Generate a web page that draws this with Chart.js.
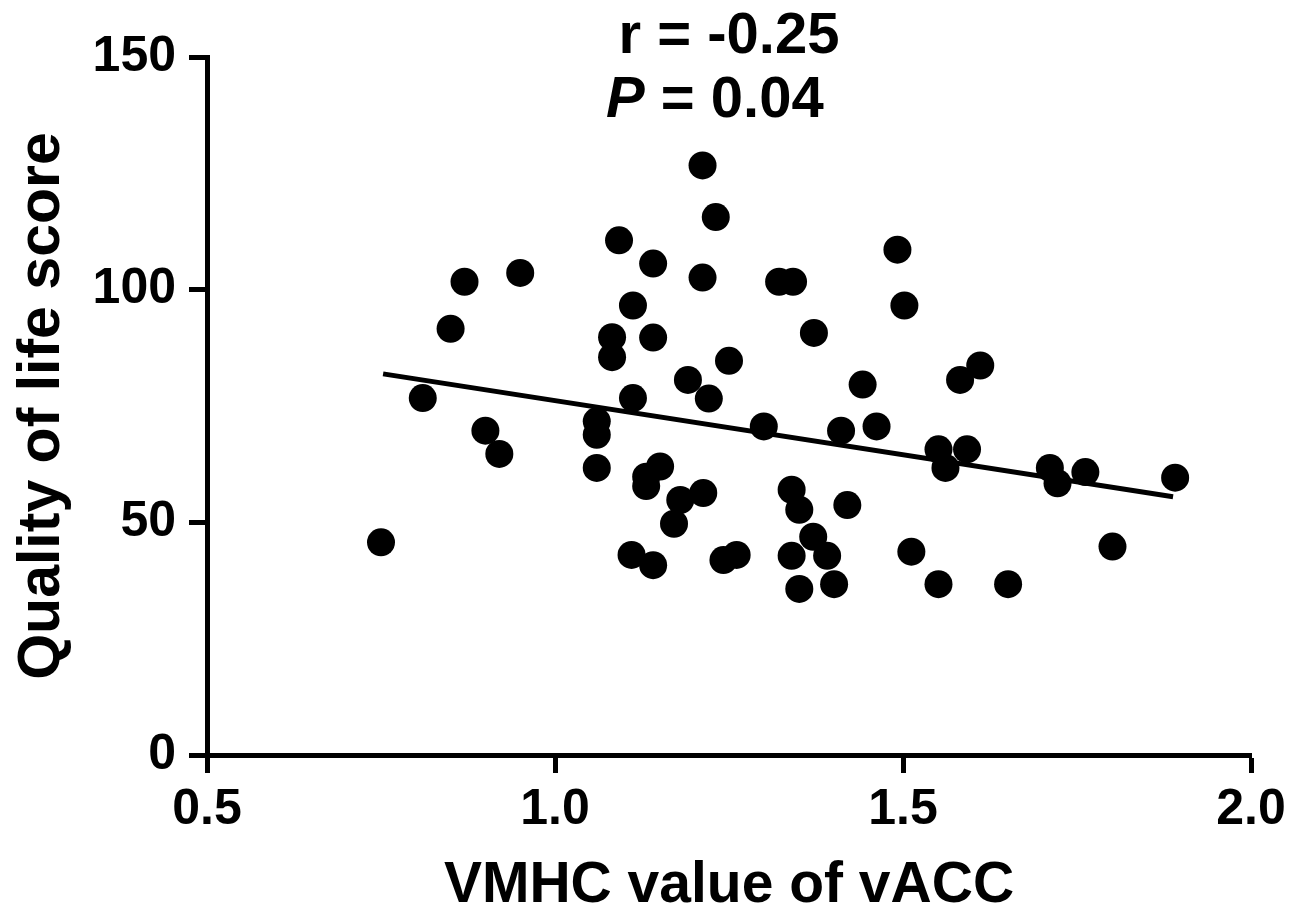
<!DOCTYPE html>
<html>
<head>
<meta charset="utf-8">
<script src="https://cdn.jsdelivr.net/npm/chart.js@4.4.1/dist/chart.umd.min.js"></script>
<style>
  html, body { margin: 0; padding: 0; background: #fff; }
  #wrap { width: 1300px; height: 923px; }
</style>
</head>
<body>
<div id="wrap"><canvas id="c" width="1300" height="923"></canvas></div>
<script>
// ---- data ----
const xValues = [0.75, 0.81, 0.85, 0.87, 0.90, 0.92, 0.95, 1.06, 1.06, 1.06,
  1.082, 1.082, 1.092, 1.112, 1.112, 1.110, 1.141, 1.141, 1.141, 1.151,
  1.131, 1.131, 1.171, 1.180, 1.191, 1.212, 1.213, 1.221, 1.212, 1.231,
  1.242, 1.261, 1.250, 1.300, 1.322, 1.342, 1.340, 1.351, 1.340, 1.351,
  1.372, 1.371, 1.391, 1.401, 1.411, 1.420, 1.442, 1.462, 1.492, 1.502,
  1.512, 1.551, 1.561, 1.551, 1.582, 1.592, 1.611, 1.651, 1.711, 1.722,
  1.762, 1.801, 1.891];
const yValues = [45.7, 76.7, 91.6, 101.7, 69.7, 64.7, 103.6, 71.7, 68.8, 61.7,
  89.8, 85.5, 110.6, 96.6, 76.7, 43.0, 105.6, 89.7, 40.8, 62.0,
  59.8, 57.8, 49.7, 54.8, 80.6, 102.6, 56.3, 76.6, 126.7, 115.6,
  41.9, 43.0, 84.7, 70.6, 101.7, 101.7, 57.0, 52.7, 42.8, 35.7,
  90.7, 46.9, 42.8, 36.7, 69.7, 53.7, 79.6, 70.6, 108.6, 96.6,
  43.7, 65.7, 61.7, 36.7, 80.6, 65.7, 83.7, 36.7, 61.7, 58.4,
  60.8, 44.8, 59.6];
const fitX = [0.753, 1.888];
const fitY = [81.9, 55.5];
const xTicks = [0.5, 1.0, 1.5, 2.0];
const xTickLabels = ['0.5', '1.0', '1.5', '2.0'];
const yTicks = [0, 50, 100, 150];
const yTickLabels = ['0', '50', '100', '150'];
const xTitle = 'VMHC value of vACC';
const yTitle = 'Quality of life score';
const statR = 'r = -0.25';
const statP = 'P';
const statPRest = ' = 0.04';

const FONT = '"Liberation Sans", Arial, Helvetica, sans-serif';

const points = xValues.map((x, i) => ({ x: x, y: yValues[i] }));
const fitLine = fitX.map((x, i) => ({ x: x, y: fitY[i] }));

const statsPlugin = {
  id: 'stats',
  afterDraw(chart) {
    const ctx = chart.ctx;
    ctx.save();
    ctx.fillStyle = '#000';
    ctx.textBaseline = 'middle';
    ctx.font = 'bold 58px ' + FONT;
    ctx.textAlign = 'center';
    ctx.fillText(statR, 729, 37);
    ctx.textAlign = 'left';
    let x0 = 606;
    ctx.font = 'italic bold 58px ' + FONT;
    ctx.fillText(statP, x0, 101);
    const wP = ctx.measureText(statP).width;
    ctx.font = 'bold 58px ' + FONT;
    ctx.fillText(statPRest, x0 + wP, 101);
    ctx.restore();
  }
};

new Chart(document.getElementById('c'), {
  type: 'scatter',
  data: {
    datasets: [
      {
        type: 'scatter',
        data: points,
        pointRadius: 14,
        pointHoverRadius: 14,
        pointBackgroundColor: '#000',
        pointBorderWidth: 0,
        borderWidth: 0,
        order: 2
      },
      {
        type: 'line',
        data: fitLine,
        borderColor: '#000',
        borderWidth: 5,
        pointRadius: 0,
        fill: false,
        tension: 0,
        order: 1
      }
    ]
  },
  options: {
    responsive: false,
    animation: false,
    devicePixelRatio: 1,
    layout: { padding: { top: 57, right: 49, left: 0, bottom: 0 } },
    plugins: { legend: { display: false }, tooltip: { enabled: false } },
    scales: {
      x: {
        type: 'linear',
        min: 0.5, max: 2.0,
        afterBuildTicks: s => { s.ticks = xTicks.map(v => ({ value: v })); },
        afterFit: s => { s.height = 168; },
        ticks: {
          color: '#000',
          font: { family: FONT, size: 50, weight: 'bold' },
          padding: 7,
          maxRotation: 0,
          callback: (v) => { const i = xTicks.indexOf(v); return i >= 0 ? xTickLabels[i] : ''; }
        },
        grid: { drawOnChartArea: false, drawTicks: true, tickLength: 18, tickWidth: 5, tickColor: '#000' },
        border: { display: true, width: 5, color: '#000' },
        title: {
          display: true, text: xTitle, color: '#000',
          font: { family: FONT, size: 57, weight: 'bold' },
          padding: { top: 0, bottom: 3 }
        }
      },
      y: {
        type: 'linear',
        min: 0, max: 150,
        afterBuildTicks: s => { s.ticks = yTicks.map(v => ({ value: v })); },
        afterFit: s => { s.width = 207; },
        ticks: {
          color: '#000',
          font: { family: FONT, size: 50, weight: 'bold' },
          padding: 13,
          callback: (v) => { const i = yTicks.indexOf(v); return i >= 0 ? yTickLabels[i] : ''; }
        },
        grid: { drawOnChartArea: false, drawTicks: true, tickLength: 18, tickWidth: 5, tickColor: '#000' },
        border: { display: true, width: 5, color: '#000' },
        title: {
          display: true, text: yTitle, color: '#000',
          font: { family: FONT, size: 59, weight: 'bold' },
          padding: { top: 7, bottom: 0 }
        }
      }
    }
  },
  plugins: [statsPlugin]
});
</script>
</body>
</html>
